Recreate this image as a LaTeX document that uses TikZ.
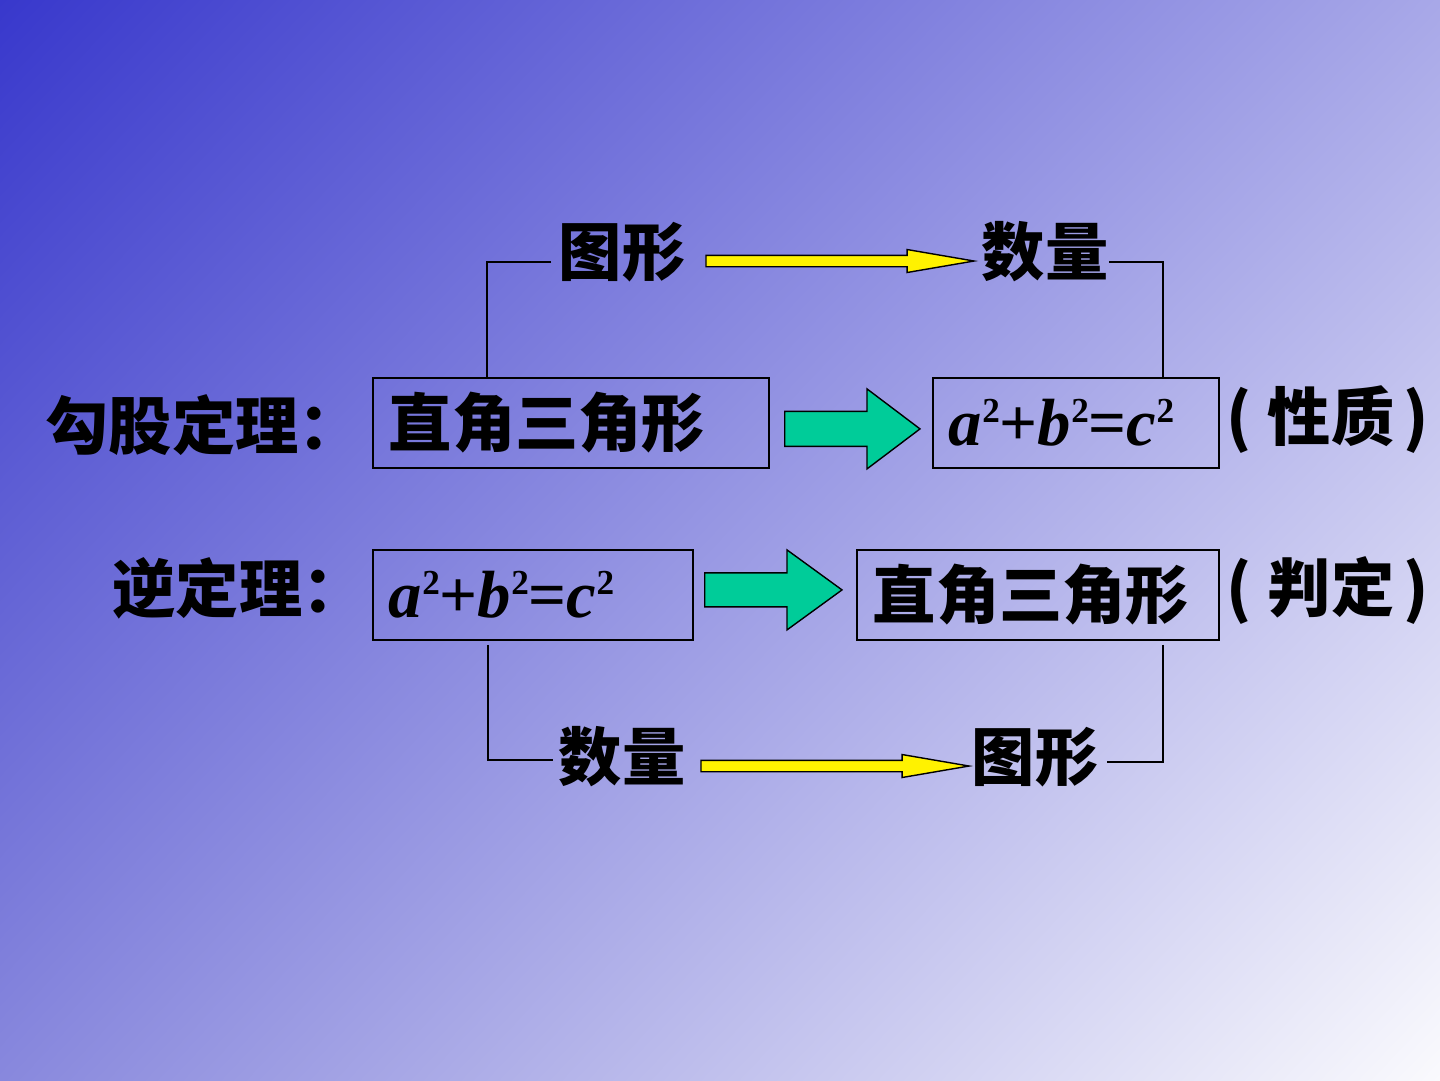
\documentclass[tikz,border=0pt]{standalone}
\usepackage{fontspec}
\setmainfont{Liberation Serif}
\newfontfamily\cjk{Noto Sans CJK SC}
\newfontfamily\eqf{Liberation Serif Bold Italic}
\newfontfamily\eqs{Liberation Serif Bold}
\usetikzlibrary{calc,shadings}
\definecolor{bgtl}{RGB}{56,56,204}
\definecolor{bgtr}{RGB}{168,168,232}
\definecolor{bgbl}{RGB}{136,136,221}
\definecolor{bgbr}{RGB}{250,250,253}
\definecolor{grn}{RGB}{0,204,153}
\tikzset{
  bx/.style={draw=black,line width=0.5pt,anchor=north west,inner xsep=1.6mm,inner ysep=0pt,minimum height=9mm,align=left,font=\fontsize{18}{20}\selectfont\bfseries},
  zh/.style={inner sep=0pt,font=\cjk\fontsize{18}{20}\selectfont\bfseries},
  lnk/.style={line width=0.5pt},
  ya/.style={draw=black,line width=0.4pt,fill=yellow},
  ga/.style={draw=black,line width=0.4pt,fill=grn}
}
\newcommand{\sq}{\raisebox{6.5pt}{\eqs\fontsize{10}{10}\selectfont 2}}
\newcommand{\eqn}{{\eqf\fontsize{19}{22}\selectfont a\sq{\eqs+}b\sq{\eqs=}c\sq}}
\newcommand{\fat}[6]{\draw[#1] let \p1=(#2), \p2=(#3) in (\x1,\y1+#4) -- (\x2-#6,\y1+#4) -- (\x2-#6,\y1+#5) -- (\x2,\y1) -- (\x2-#6,\y1-#5) -- (\x2-#6,\y1-#4) -- (\x1,\y1-#4) -- cycle;}

\begin{document}
\begin{tikzpicture}[x=0.1mm,y=-0.1mm]
\useasboundingbox (0,0) rectangle (1440,1080);
\shade[upper left=bgtl,upper right=bgtr,lower left=bgbl,lower right=bgbr] (0,0) rectangle (1440,1080);
\node[zh] (tx1) at (622,252) {图形};
\node[zh] (sl1) at (1045,252) {数量};
\node[zh,anchor=west] (gg) at (45,425) {勾股定理：};
\node[zh,anchor=west] (nd) at (112,588) {逆定理：};
\node[bx,text width=36.4mm] (b1) at (372,377) {\cjk 直角三角形};
\node[bx,text width=25.4mm] (b2) at (932,377) {\eqn};
\node[zh,anchor=west] (xz) at (1226,420) {(\kern0.25em性质\kern0.15em)};
\node[bx,text width=28.8mm] (b3) at (372,549) {\eqn};
\node[bx,text width=33mm] (b4) at (856,549) {\cjk 直角三角形};
\node[zh,anchor=west] (pd) at (1226,590) {(\kern0.25em判定\kern0.15em)};
\node[zh] (sl2) at (622,757) {数量};
\node[zh] (tx2) at (1035,757) {图形};
\draw[lnk] ($(tx1.west)+(-7,10)$) -| ($(b1.north west)+(115,0)$);
\draw[lnk] ($(sl1.east)+(0,10)$) -| ($(b2.north east)+(-57,0)$);
\draw[lnk] ($(b3.south west)+(116,4)$) |- ($(sl2.west)+(-5,3)$);
\draw[lnk] ($(b4.south east)+(-57,4)$) |- ($(tx2.east)+(8,5)$);
\fat{ya}{$(tx1.east)+(20,9)$}{$(sl1.west)+(-7,9)$}{0.57mm}{1.15mm}{6.7mm}
\fat{ya}{$(sl2.east)+(15,9)$}{$(tx2.west)+(-2,9)$}{0.57mm}{1.15mm}{6.7mm}
\fat{ga}{$(b1.east)+(15,6)$}{$(b2.west)+(-12,6)$}{1.75mm}{4mm}{5.3mm}
\fat{ga}{$(b3.east)+(11,-5)$}{$(b4.west)+(-14,-5)$}{1.7mm}{4mm}{5.5mm}
\end{tikzpicture}
\end{document}
